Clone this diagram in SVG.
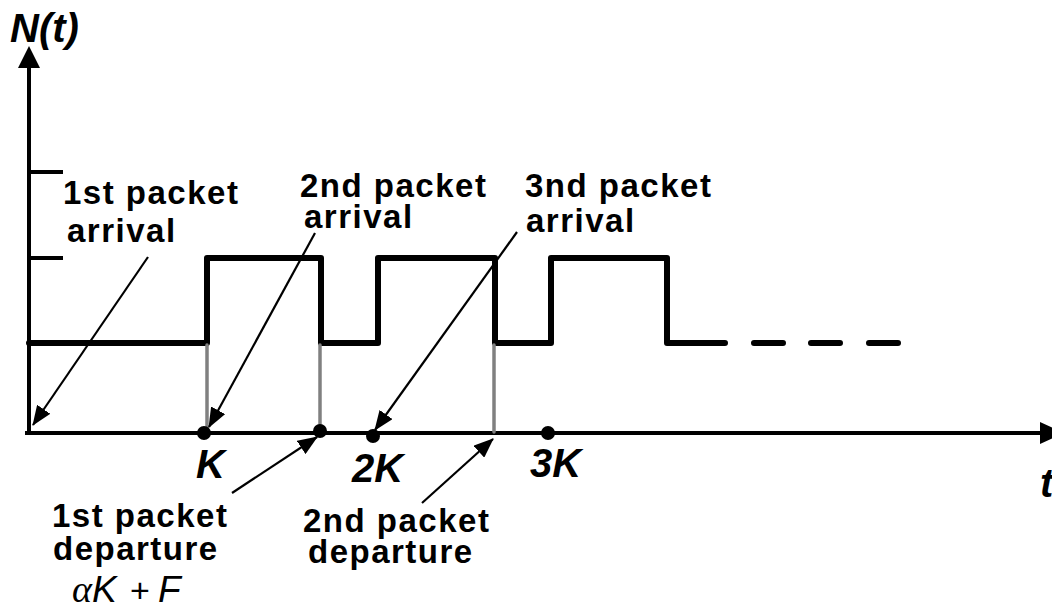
<svg xmlns="http://www.w3.org/2000/svg" width="1052" height="609" viewBox="0 0 1052 609">
<style>
.lbl{font-family:"Liberation Sans",Arial,sans-serif;font-weight:bold;font-size:33px;letter-spacing:1.5px;fill:#000}
.ax{font-family:"Liberation Sans",Arial,sans-serif;font-weight:bold;font-style:italic;font-size:40px;fill:#000}
.math{font-family:"Liberation Sans",Arial,sans-serif;font-style:italic;font-size:37px;fill:#000}
.axis{stroke:#000;stroke-width:4;fill:none}
.wave{stroke:#000;stroke-width:6;fill:none;stroke-linejoin:round;stroke-linecap:round}
.gray{stroke:#808080;stroke-width:3.5;stroke-linecap:round}
.lead{stroke:#000;stroke-width:2.2;fill:none}
</style>
<defs>
<marker id="ah" markerUnits="userSpaceOnUse" markerWidth="20" markerHeight="16" viewBox="0 0 20 16" refX="19" refY="8" orient="auto">
<path d="M0,0 L20,8 L0,16 Z" fill="#000"/>
</marker>
</defs>
<rect width="1052" height="609" fill="#fff"/>
<g id="axes">
<line class="axis" x1="29" y1="433" x2="29" y2="64"/>
<polygon points="29,46 18,68 40,68" fill="#000"/>
<line class="axis" x1="25" y1="433" x2="1042" y2="433"/>
<polygon points="1040,422 1040,444 1064,433" fill="#000"/>
<line class="axis" x1="29" y1="172" x2="63" y2="172"/>
<line class="axis" x1="29" y1="258" x2="63" y2="258"/>
<text class="ax" x="10" y="42">N(t)</text>
<text class="ax" x="1040" y="497">t</text>
</g>
<g id="waveform">
<path class="wave" d="M29,343 H207 V258 H321 V343 H378 V258 H495 V343 H551 V258 H667 V343 H725"/>
<path class="wave" d="M754,343 H783 M811,343 H840 M869,343 H898" stroke-width="5"/>
</g>
<g id="departures">
<line class="gray" x1="207" y1="345" x2="207" y2="432"/>
<line class="gray" x1="320" y1="345" x2="320" y2="432"/>
<line class="gray" x1="494" y1="345" x2="494" y2="432"/>
</g>
<g id="ticks">
<circle cx="204" cy="433" r="7" fill="#000"/>
<circle cx="320" cy="431" r="7" fill="#000"/>
<circle cx="373" cy="436" r="7" fill="#000"/>
<circle cx="548" cy="433" r="7" fill="#000"/>
<text class="ax" x="196" y="478">K</text>
<text class="ax" x="352" y="482">2K</text>
<text class="ax" x="530" y="477">3K</text>
</g>
<g id="connectors">
<line class="lead" x1="148" y1="257" x2="33" y2="425" marker-end="url(#ah)"/>
<line class="lead" x1="315" y1="233" x2="209" y2="427" marker-end="url(#ah)"/>
<line class="lead" x1="517" y1="232" x2="375" y2="430" marker-end="url(#ah)"/>
<line class="lead" x1="232" y1="493" x2="317" y2="437" marker-end="url(#ah)"/>
<line class="lead" x1="422" y1="503" x2="493" y2="439" marker-end="url(#ah)"/>
</g>
<g id="arrival1">
<text class="lbl" x="63" y="204">1st packet</text>
<text class="lbl" x="67" y="242">arrival</text>
</g>
<g id="arrival2">
<text class="lbl" x="300" y="197">2nd packet</text>
<text class="lbl" x="304" y="228">arrival</text>
</g>
<g id="arrival3">
<text class="lbl" x="525" y="197">3nd packet</text>
<text class="lbl" x="526" y="232">arrival</text>
</g>
<g id="departure1">
<text class="lbl" x="52" y="527">1st packet</text>
<text class="lbl" x="53" y="560">departure</text>
<text x="72" y="602" font-family="Liberation Serif,serif" font-style="italic" font-size="38">α</text>
<text class="math" x="92" y="602">K</text>
<text x="130" y="602" font-family="Liberation Sans,Arial,sans-serif" font-size="34">+</text>
<text class="math" x="158" y="602">F</text>
</g>
<g id="departure2">
<text class="lbl" x="303" y="532">2nd packet</text>
<text class="lbl" x="308" y="563">departure</text>
</g>
</svg>
